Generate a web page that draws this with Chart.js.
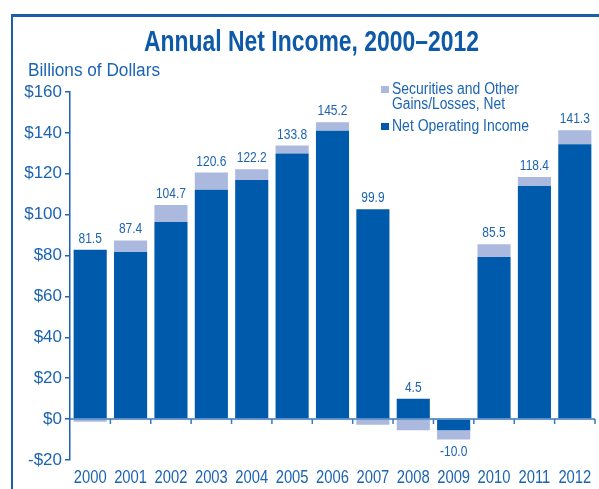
<!DOCTYPE html>
<html>
<head>
<meta charset="utf-8">
<script src="https://cdn.jsdelivr.net/npm/chart.js@4.4.1/dist/chart.umd.min.js"></script>
<style>
  body { margin: 0; background: #fff; }
  #wrap { position: relative; width: 599px; height: 489px; overflow: hidden; }
  #frame { position: absolute; left: 11px; top: 14px; width: 700px; height: 600px;
           border-top: 3px solid #1b5fab; border-left: 2px solid #1b5fab; }
  canvas { position: absolute; left: 0; top: 0; }
  .txt { position: absolute; color: #1c64b2; line-height: 1; white-space: nowrap;
         font-family: 'Liberation Sans', Arial, sans-serif; transform-origin: 0 0; }
  #title { left: 144px; top: 26px; font-size: 30px; font-weight: bold; color: #0e5aa8; }
  #sub { left: 28px; top: 61px; font-size: 18px; }
  .leg { left: 392px; font-size: 16px; }
  .sw { position: absolute; left: 381px; width: 8px; height: 7px; }
</style>
</head>
<body>
<div id="wrap">
  <div id="frame"></div>
  <canvas id="chart" width="599" height="489"></canvas>
  <div class="txt" id="title" data-w="335">Annual Net Income, 2000–2012</div>
  <div class="txt" id="sub" data-w="132">Billions of Dollars</div>
  <div class="sw" style="top:86px; background:#aab9dd"></div>
  <div class="txt leg" style="top:81px" data-w="127">Securities and Other</div>
  <div class="txt leg" style="top:96px" data-w="113">Gains/Losses, Net</div>
  <div class="sw" style="top:123px; background:#005aab"></div>
  <div class="txt leg" style="top:118px" data-w="137">Net Operating Income</div>
</div>
<script>
const years = ['2000', '2001', '2002', '2003', '2004', '2005', '2006', '2007', '2008', '2009', '2010', '2011', '2012'];
const netOperating = [82.8, 81.8, 96.4, 112.2, 117.0, 129.9, 141.1, 102.6, 9.9, -5.4, 79.3, 114.0, 134.5];
const securities = [-1.3, 5.6, 8.3, 8.4, 5.2, 3.9, 4.1, -2.7, -5.4, -4.6, 6.2, 4.4, 6.8];
const totals = [81.5, 87.4, 104.7, 120.6, 122.2, 133.8, 145.2, 99.9, 4.5, -10.0, 85.5, 118.4, 141.3];

const blue = '#1c64b2';
const fam = "'Liberation Sans', Arial, sans-serif";

// condensed look: squeeze the html texts to the width they have in the original
document.querySelectorAll('.txt[data-w]').forEach(el => {
    const w = el.getBoundingClientRect().width;
    el.style.transform = 'scaleX(' + (el.dataset.w / w) + ')';
});

// draws text squeezed horizontally (no condensed font installed)
function narrowText(ctx, text, x, y, sx) {
    ctx.save();
    ctx.translate(x, y);
    ctx.scale(sx, 1);
    ctx.fillText(text, 0, 0);
    ctx.restore();
}

// zero line with small ticks, year labels, total labels
const overlay = {
    id: 'overlay',
    afterDatasetsDraw(chart) {
        const { ctx, chartArea } = chart;
        const x = chart.scales.x, y = chart.scales.y;
        const y0 = y.getPixelForValue(0);
        const step = x.getPixelForValue(1) - x.getPixelForValue(0);
        ctx.save();
        ctx.strokeStyle = '#3a78c0';
        ctx.lineWidth = 1.5;
        ctx.beginPath();
        ctx.moveTo(chartArea.left, y0);
        ctx.lineTo(chartArea.right, y0);
        for (let i = 0; i < years.length; i++) {
            const bx = x.getPixelForValue(i) + step / 2;
            ctx.moveTo(bx, y0);
            ctx.lineTo(bx, y0 + 5);
        }
        ctx.stroke();

        ctx.fillStyle = blue;
        ctx.textAlign = 'center';
        ctx.textBaseline = 'alphabetic';

        ctx.font = '18px ' + fam;
        years.forEach((yr, i) => narrowText(ctx, yr, x.getPixelForValue(i), chartArea.bottom + 23, 0.82));

        ctx.font = '15px ' + fam;
        totals.forEach((t, i) => {
            const vals = [netOperating[i], securities[i]];
            const pos = vals.filter(v => v > 0).reduce((a, b) => a + b, 0);
            const neg = vals.filter(v => v < 0).reduce((a, b) => a + b, 0);
            const ty = t >= 0 ? y.getPixelForValue(pos) - 7 : y.getPixelForValue(neg) + 16;
            narrowText(ctx, t.toFixed(1), x.getPixelForValue(i), ty, 0.8);
        });
        ctx.restore();
    }
};

new Chart(document.getElementById('chart').getContext('2d'), {
    type: 'bar',
    data: {
        labels: years,
        datasets: [
            { label: 'Net Operating Income', data: netOperating, backgroundColor: '#005aab' },
            { label: 'Securities and Other Gains/Losses, Net', data: securities, backgroundColor: '#aab9dd' }
        ]
    },
    options: {
        responsive: false,
        animation: false,
        devicePixelRatio: 1,
        layout: { padding: { top: 92, left: 0, right: 4, bottom: 0 } },
        datasets: { bar: { categoryPercentage: 1, barPercentage: 0.82 } },
        plugins: {
            legend: { display: false },
            tooltip: { enabled: false }
        },
        scales: {
            x: {
                stacked: true,
                grid: { display: false, drawTicks: false },
                border: { display: false },
                ticks: { display: false },
                afterFit: s => { s.height = 29; }
            },
            y: {
                stacked: true,
                min: -20,
                max: 160,
                grid: { drawOnChartArea: false, drawTicks: true, tickLength: 5, color: blue, lineWidth: 1.5 },
                border: { display: true, color: blue, width: 1.5 },
                ticks: {
                    stepSize: 20,
                    color: blue,
                    padding: 3,
                    font: { family: fam, size: 17 },
                    callback: v => (v < 0 ? '-$' : '$') + Math.abs(v)
                },
                afterFit: s => { s.width = 70; }
            }
        }
    },
    plugins: [overlay]
});
</script>
</body>
</html>
